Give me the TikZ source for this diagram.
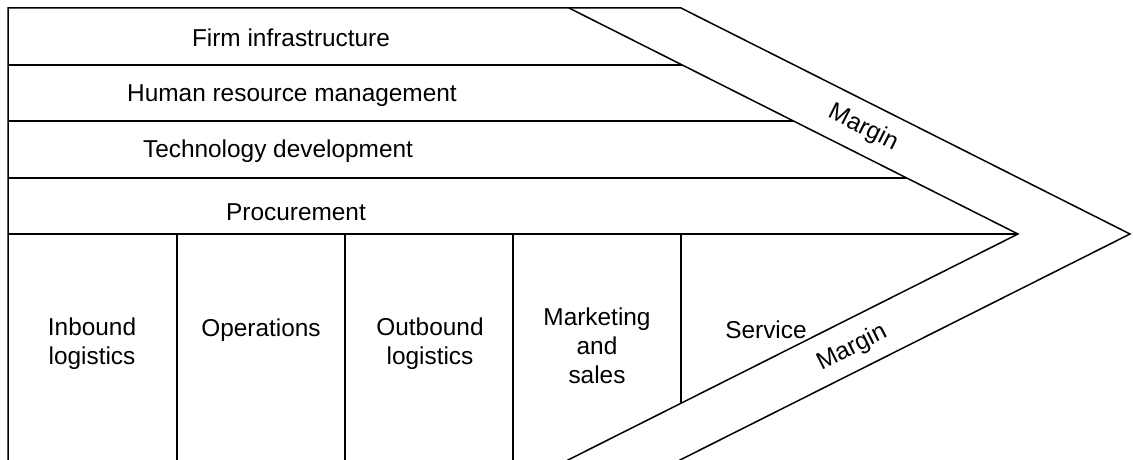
\documentclass[tikz,border=0pt]{standalone}
\usepackage{fontspec}
\setmainfont{Liberation Sans}
\begin{document}
\begin{tikzpicture}[x=1pt,y=-1pt,line width=1.5pt,line join=miter,
  lbl/.style={font=\fontsize{24.4}{29}\selectfont,align=center,inner sep=0pt}]
\useasboundingbox (0,0) rectangle (1133,460);
% outline coordinates
\coordinate (TL) at (8,8);
\coordinate (BL) at (8,461);
\coordinate (IT) at (569,8);
\coordinate (OT) at (681,8);
\coordinate (IP) at (1018,234);
\coordinate (OP) at (1130,234);
\coordinate (IB) at (566,461);
\coordinate (OB) at (678,461);
% row ends on inner diagonal
\coordinate (R1a) at (8,65);   \coordinate (R1b) at (682,65);
\coordinate (R2a) at (8,121);  \coordinate (R2b) at (794,121);
\coordinate (R3a) at (8,178);  \coordinate (R3b) at (907,178);
\coordinate (R4a) at (8,234);
% column dividers
\coordinate (C1a) at (177,234); \coordinate (C1b) at (177,461);
\coordinate (C2a) at (345,234); \coordinate (C2b) at (345,461);
\coordinate (C3a) at (513,234); \coordinate (C3b) at (513,461);
\coordinate (C4a) at (681,234); \coordinate (C4b) at (681,403);

\draw (BL) -- (TL) -- (OT) -- (OP) -- (OB);
\draw (IT) -- (IP) -- (IB);
\draw (R1a) -- (R1b);
\draw (R2a) -- (R2b);
\draw (R3a) -- (R3b);
\draw (R4a) -- (IP);
\draw (C1a) -- (C1b);
\draw (C2a) -- (C2b);
\draw (C3a) -- (C3b);
\draw (C4a) -- (C4b);

% labels
\node[lbl] (firm) at (291,38) {Firm infrastructure};
\node[lbl] (hrm) at (292,96) {Human resource management};
\node[lbl] (tech) at (278,151) {Technology development};
\node[lbl] (proc) at (296,212) {Procurement};
\node[lbl] (inb) at (92,344) {Inbound\\logistics};
\node[lbl] (ops) at (261,330) {Operations};
\node[lbl] (outb) at (430,344) {Outbound\\logistics};
\node[lbl] (mkt) at (597,346) {Marketing\\and\\sales};
\node[lbl] (svc) at (766,330) {Service};
\node[lbl,rotate=-26.7] (m1) at (863,128) {Margin};
\node[lbl,rotate=26.7] (m2) at (852,348) {Margin};
\end{tikzpicture}
\end{document}
